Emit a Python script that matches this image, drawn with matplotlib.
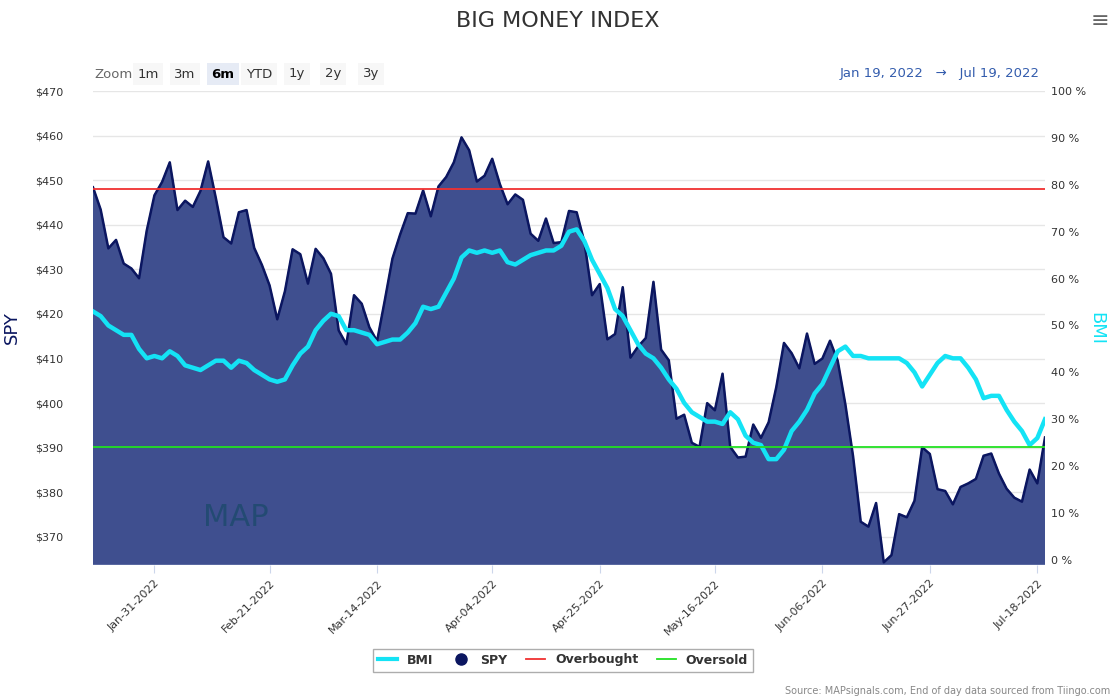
import matplotlib
matplotlib.use("Agg")
import matplotlib.pyplot as plt
import numpy as np
import pandas as pd
from matplotlib.lines import Line2D

dates = pd.to_datetime([
 "2022-01-19","2022-01-20","2022-01-21","2022-01-24","2022-01-25","2022-01-26","2022-01-27","2022-01-28","2022-01-31",
 "2022-02-01","2022-02-02","2022-02-03","2022-02-04","2022-02-07","2022-02-08","2022-02-09","2022-02-10","2022-02-11",
 "2022-02-14","2022-02-15","2022-02-16","2022-02-17","2022-02-18","2022-02-22","2022-02-23","2022-02-24","2022-02-25","2022-02-28",
 "2022-03-01","2022-03-02","2022-03-03","2022-03-04","2022-03-07","2022-03-08","2022-03-09","2022-03-10","2022-03-11",
 "2022-03-14","2022-03-15","2022-03-16","2022-03-17","2022-03-18","2022-03-21","2022-03-22","2022-03-23","2022-03-24","2022-03-25",
 "2022-03-28","2022-03-29","2022-03-30","2022-03-31",
 "2022-04-01","2022-04-04","2022-04-05","2022-04-06","2022-04-07","2022-04-08","2022-04-11","2022-04-12","2022-04-13","2022-04-14",
 "2022-04-18","2022-04-19","2022-04-20","2022-04-21","2022-04-22","2022-04-25","2022-04-26","2022-04-27","2022-04-28","2022-04-29",
 "2022-05-02","2022-05-03","2022-05-04","2022-05-05","2022-05-06","2022-05-09","2022-05-10","2022-05-11","2022-05-12","2022-05-13",
 "2022-05-16","2022-05-17","2022-05-18","2022-05-19","2022-05-20","2022-05-23","2022-05-24","2022-05-25","2022-05-26","2022-05-27","2022-05-31",
 "2022-06-01","2022-06-02","2022-06-03","2022-06-06","2022-06-07","2022-06-08","2022-06-09","2022-06-10","2022-06-13","2022-06-14",
 "2022-06-15","2022-06-16","2022-06-17","2022-06-21","2022-06-22","2022-06-23","2022-06-24","2022-06-27","2022-06-28","2022-06-29","2022-06-30",
 "2022-07-01","2022-07-05","2022-07-06","2022-07-07","2022-07-08","2022-07-11","2022-07-12","2022-07-13","2022-07-14","2022-07-15","2022-07-18","2022-07-19"])

spy = [448.4,443.4,434.7,436.6,431.3,430.2,428.0,438.7,446.6,
 449.6,454.0,443.3,445.4,444.0,447.6,454.2,446.0,437.2,
 435.8,442.8,443.3,434.8,431.0,426.4,418.8,425.1,434.5,433.4,
 426.8,434.6,432.5,429.0,416.3,413.2,424.2,422.3,417.0,
 413.9,423.0,432.4,437.8,442.6,442.5,447.7,441.9,448.6,450.7,
 454.0,459.6,456.7,449.7,
 451.0,454.8,449.1,444.6,446.8,445.6,438.0,436.4,441.4,435.9,
 436.1,443.1,442.8,436.2,424.2,426.7,414.3,415.5,426.0,410.2,
 412.7,414.6,427.2,412.0,409.6,396.5,397.4,391.1,390.2,400.0,
 398.4,406.6,390.2,387.8,388.0,395.2,392.2,395.7,403.6,413.5,411.2,
 407.8,415.6,408.8,410.0,414.0,409.5,399.7,388.1,373.4,372.3,
 377.6,364.3,365.9,375.1,374.4,378.1,390.1,388.6,380.7,380.3,377.3,
 381.2,382.0,383.0,388.2,388.7,384.2,380.8,378.8,377.9,385.1,382.0,392.3]

bmi = [53,52,50,49,48,48,45,43,43.5,
 43,44.5,43.5,41.5,41,40.5,41.5,42.5,42.5,41,42.5,42,40.5,39.5,38.5,38,38.5,41.5,44,
 45.5,49,51,52.5,52,49,49,48.5,48,46,46.5,47,47,48.5,50.5,54,53.5,54,57,60,64.5,66,65.5,
 66,65.5,66,63.5,63,64,65,65.5,66,66,67,70,70.5,68,64,61,58,53.5,52,49,
 46,44,43,41,38.5,36.5,33.5,31.5,30.5,29.5,29.5,29,31.5,30,26.5,25,24.5,21.5,21.5,23.5,27.5,
 29.5,32,35.5,37.5,41,44.5,45.5,43.5,43.5,43,43,43,43,43,42,40,37,39.5,42,43.5,43,
 43,41,38.5,34.5,35,35,32,29.5,27.5,24.5,26,30]

overbought = 79
oversold = 24
tick_dates = ["2022-01-31","2022-02-22","2022-03-14","2022-04-04","2022-04-25","2022-05-16","2022-06-06","2022-06-27","2022-07-18"]
tick_labels = ["Jan-31-2022","Feb-21-2022","Mar-14-2022","Apr-04-2022","Apr-25-2022","May-16-2022","Jun-06-2022","Jun-27-2022","Jul-18-2022"]

W, H = 1116, 700
fig = plt.figure(figsize=(W/100, H/100), dpi=100)
ax = fig.add_axes([93/W, 1-565/H, (1045-93)/W, (565-91)/H])
x = np.arange(len(dates))
ax.fill_between(x, spy, 300, color="#3f4f8f", zorder=2)
ax.plot(x, spy, color="#0b1660", lw=1.8, zorder=3)
ax.set_xlim(0, len(x)-1)
ax.set_ylim(363.7, 470)
ax.set_yticks(np.arange(370, 471, 10))
ax.set_yticklabels([f"${v}" for v in range(370, 471, 10)], fontsize=8, color="#333")
ax.grid(axis="y", color="#e6e6e6", lw=1, zorder=0)
for s in ax.spines.values(): s.set_visible(False)
ax.tick_params(axis="y", length=0)
for l in ax.get_yticklabels(): l.set_ha("left")
ax.yaxis.set_tick_params(pad=42)
pos = [int(np.searchsorted(dates, pd.Timestamp(d))) for d in tick_dates]
ax.set_xticks(pos)
ax.set_xticklabels(tick_labels, rotation=45, ha="right", rotation_mode="anchor", fontsize=8, color="#333")
ax.tick_params(axis="x", length=6, color="#ccd6eb")
ax.axhline(363.7, color="#ccd6eb", lw=1)
ax.set_ylabel("SPY", fontsize=13, color="#0b1660", labelpad=10)

ax2 = ax.twinx()
ax2.set_ylim(-1.07, 100.0)
ax2.plot(x, bmi, color="#14e3f5", lw=3.2, zorder=4)
ax2.axhline(overbought, color="#f03030", lw=1.3, zorder=5)
ax2.axhline(oversold, color="#22e022", lw=1.3, zorder=5)
ax2.set_yticks(np.arange(0, 101, 10))
ax2.set_yticklabels([f"{v} %" for v in range(0, 101, 10)], fontsize=8, color="#333")
ax2.tick_params(axis="y", length=0, pad=4)
for s in ax2.spines.values(): s.set_visible(False)
ax2.set_ylabel("BMI", fontsize=13, color="#14e3f5", rotation=270, labelpad=14)

fig.text(0.5, 1-21/H, "BIG MONEY INDEX", ha="center", va="center", fontsize=16, color="#333")
fig.text(1100/W, 1-21/H, "≡", ha="center", va="center", fontsize=16, color="#666")
fig.text(94/W, 1-74/H, "Zoom", fontsize=9.5, color="#666", va="center")
bx = [148, 185, 223, 259, 297, 333, 371]
for i, (b, t) in enumerate(zip(bx, ["1m","3m","6m","YTD","1y","2y","3y"])):
    fig.text(b/W, 1-74/H, t, ha="center", va="center", fontsize=9.5,
             color="#000" if t == "6m" else "#333", fontweight="bold" if t == "6m" else "normal",
             bbox=dict(boxstyle="square,pad=0.35", fc="#e6ebf5" if t == "6m" else "#f7f7f7", ec="none"))
fig.text(1040/W, 1-73/H, "Jan 19, 2022   →   Jul 19, 2022", ha="right", va="center", fontsize=9.5, color="#335cad")
fig.text(236/W, 1-517/H, "MAP", fontsize=22, color="#1f4a6e", ha="center", va="center", alpha=0.85)

handles = [Line2D([], [], color="#14e3f5", lw=3),
           Line2D([], [], color="#0b1660", marker="o", ls="none", ms=8),
           Line2D([], [], color="#f03030", lw=1.3),
           Line2D([], [], color="#22e022", lw=1.3)]
leg = fig.legend(handles, ["BMI","SPY","Overbought","Oversold"], loc="center", bbox_to_anchor=(563/W, 1-660/H),
                 ncol=4, frameon=True, handlelength=1.5, columnspacing=1.5, fancybox=False,
                 prop={"weight": "bold", "size": 9})
leg.get_frame().set_edgecolor("#999")
for t in leg.get_texts(): t.set_color("#333")
fig.text(1110/W, 1-691/H, "Source: MAPsignals.com, End of day data sourced from Tiingo.com", ha="right", va="center", fontsize=7, color="#888")
fig.savefig("out.png", dpi=100)
